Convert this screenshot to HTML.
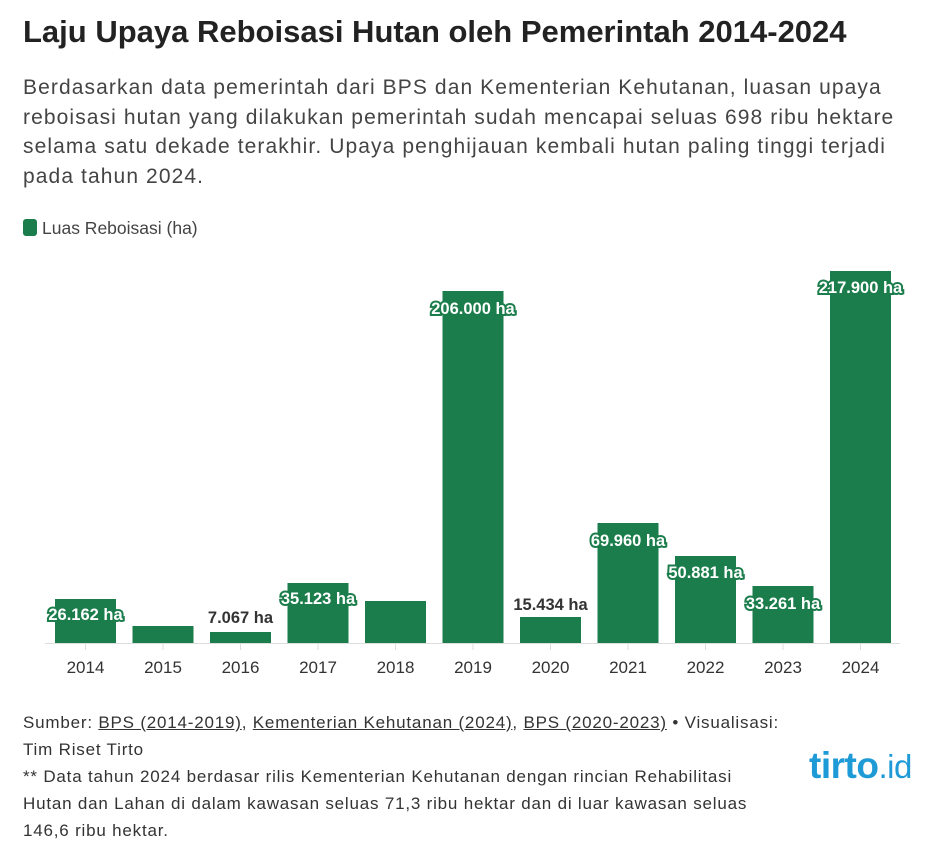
<!DOCTYPE html>
<html><head><meta charset="utf-8"><style>
body{margin:0;background:#fff;width:943px;height:862px;overflow:hidden;font-family:"Liberation Sans",sans-serif;color:#333}
h1{position:absolute;left:23px;top:14px;margin:0;font-size:31px;font-weight:bold;color:#222;white-space:nowrap}
.desc{position:absolute;left:23px;top:73px;width:920px;font-size:21px;line-height:29.5px;color:#444;white-space:nowrap;letter-spacing:1.1px}
.leg{position:absolute;left:23px;top:218px;font-size:17.5px;color:#444}
.leg i{display:inline-block;width:14px;height:17px;background:#1b7d4b;border-radius:3px;vertical-align:-2px;margin-right:5px}
.foot{position:absolute;left:23px;top:709px;font-size:17px;line-height:27px;color:#333;white-space:nowrap;letter-spacing:0.8px}
.foot u{text-decoration:underline}
.logo{position:absolute;left:809px;top:745px;font-size:37px;font-weight:bold;color:#1e9ad6;letter-spacing:-0.5px}
.logo span{font-weight:normal;font-size:33px}
svg{position:absolute;left:0;top:0}
.in{fill:#fff;stroke:#1b7d4b;stroke-width:4px;paint-order:stroke;font-weight:bold;font-size:16.5px}
.out{fill:#333;font-weight:bold;font-size:16.5px}
.ax{fill:#333;font-size:17px}
</style></head><body>
<h1>Laju Upaya Reboisasi Hutan oleh Pemerintah 2014-2024</h1>
<div class="desc">Berdasarkan data pemerintah dari BPS dan Kementerian Kehutanan, luasan upaya<br>reboisasi hutan yang dilakukan pemerintah sudah mencapai seluas 698 ribu hektare<br>selama satu dekade terakhir. Upaya penghijauan kembali hutan paling tinggi terjadi<br>pada tahun 2024.</div>
<div class="leg"><i></i>Luas Reboisasi (ha)</div>
<svg width="943" height="862" font-family="Liberation Sans, sans-serif">
<line x1="45" y1="643.5" x2="900" y2="643.5" stroke="#ddd"/>
<g fill="#1b7d4b">
<rect x="55" y="599" width="61" height="44"/>
<rect x="132.5" y="626" width="61" height="17"/>
<rect x="210" y="632" width="61" height="11"/>
<rect x="287.5" y="583" width="61" height="60"/>
<rect x="365" y="601" width="61" height="42"/>
<rect x="442.5" y="291" width="61" height="352"/>
<rect x="520" y="617" width="61" height="26"/>
<rect x="597.5" y="523" width="61" height="120"/>
<rect x="675" y="556" width="61" height="87"/>
<rect x="752.5" y="586" width="61" height="57"/>
<rect x="830" y="271" width="61" height="372"/>
</g>
<g stroke="#ddd"><line x1="85.5" y1="643" x2="85.5" y2="650"/><line x1="163" y1="643" x2="163" y2="650"/><line x1="240.5" y1="643" x2="240.5" y2="650"/><line x1="318" y1="643" x2="318" y2="650"/><line x1="395.5" y1="643" x2="395.5" y2="650"/><line x1="473" y1="643" x2="473" y2="650"/><line x1="550.5" y1="643" x2="550.5" y2="650"/><line x1="628" y1="643" x2="628" y2="650"/><line x1="705.5" y1="643" x2="705.5" y2="650"/><line x1="783" y1="643" x2="783" y2="650"/><line x1="860.5" y1="643" x2="860.5" y2="650"/></g>
<g text-anchor="middle">
<text class="in" x="85.5" y="620">26.162 ha</text>
<text class="out" x="240.5" y="623">7.067 ha</text>
<text class="in" x="318" y="604">35.123 ha</text>
<text class="in" x="473" y="314">206.000 ha</text>
<text class="out" x="550.5" y="610">15.434 ha</text>
<text class="in" x="628" y="546">69.960 ha</text>
<text class="in" x="705.5" y="578">50.881 ha</text>
<text class="in" x="783" y="609">33.261 ha</text>
<text class="in" x="860.5" y="293">217.900 ha</text>
<text class="ax" x="85.5" y="673">2014</text><text class="ax" x="163" y="673">2015</text><text class="ax" x="240.5" y="673">2016</text><text class="ax" x="318" y="673">2017</text><text class="ax" x="395.5" y="673">2018</text><text class="ax" x="473" y="673">2019</text><text class="ax" x="550.5" y="673">2020</text><text class="ax" x="628" y="673">2021</text><text class="ax" x="705.5" y="673">2022</text><text class="ax" x="783" y="673">2023</text><text class="ax" x="860.5" y="673">2024</text>
</g>
</svg>
<div class="foot">Sumber: <u>BPS (2014-2019)</u>, <u>Kementerian Kehutanan (2024)</u>, <u>BPS (2020-2023)</u> • Visualisasi:<br>Tim Riset Tirto<br>** Data tahun 2024 berdasar rilis Kementerian Kehutanan dengan rincian Rehabilitasi<br>Hutan dan Lahan di dalam kawasan seluas 71,3 ribu hektar dan di luar kawasan seluas<br>146,6 ribu hektar.</div>
<div class="logo">tirto<span>.id</span></div>
</body></html>
